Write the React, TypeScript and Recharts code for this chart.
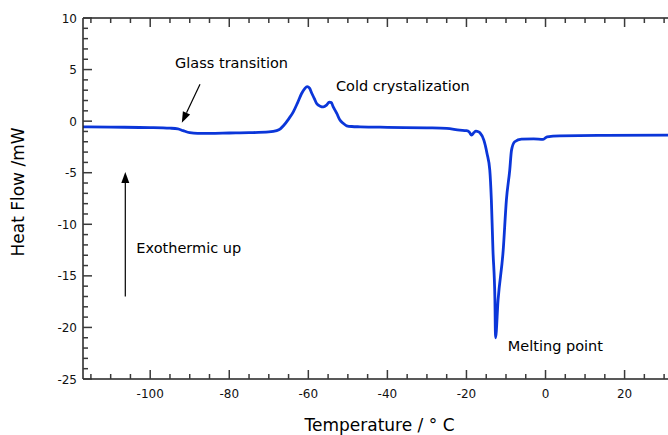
import React from "react";
import {
  LineChart,
  Line,
  XAxis,
  YAxis,
  ReferenceDot,
  ReferenceLine,
} from "recharts";

// DSC trace
const temperature = [
  -117, -110, -100, -95, -93, -91.7, -90, -88, -85, -80, -75, -70, -68, -67,
  -66.3, -65, -63.8, -62.7, -61.7, -60.9, -60.3, -59.7, -59.1, -58.5, -57.9,
  -57, -56.2, -55.4, -54.7, -54.2, -53.7, -52.8, -52, -51.2, -50.3, -49,
  -46.9, -40, -30, -25, -21.7, -20, -19.3, -18.7, -18.1, -17.6, -17, -16.6,
  -15.6, -14.8, -14.1, -13.7, -13.3, -12.8, -12.65, -12, -10.7, -9.9, -9.05,
  -8.6, -7.8, -6.1, -3, -0.6, 0.4, 3.6, 15, 32.5,
];
const heatFlow = [
  -0.55, -0.58, -0.62, -0.68, -0.75, -0.92, -1.12, -1.18, -1.18, -1.15, -1.12,
  -1.05, -0.92, -0.72, -0.45, 0.2, 0.9, 1.8, 2.68, 3.15, 3.35, 3.2, 2.68, 2.2,
  1.71, 1.45, 1.38, 1.55, 1.85, 1.8, 1.38, 0.75, 0.1, -0.2, -0.45, -0.52,
  -0.55, -0.6, -0.65, -0.7, -0.87, -0.92, -1.05, -1.36, -1.1, -0.97, -1.02,
  -1.13, -1.84, -3.13, -4.74, -7.65, -12.49, -17.33, -21.0, -17.33, -12.49,
  -7.65, -4.74, -2.81, -2.0, -1.74, -1.72, -1.77, -1.52, -1.42, -1.38, -1.36,
];

const xTicks = [
  -115, -110, -105, -100, -95, -90, -85, -80, -75, -70, -65, -60, -55, -50,
  -45, -40, -35, -30, -25, -20, -15, -10, -5, 0, 5, 10, 15, 20, 25, 30,
];
const yTicks = [
  -25, -24, -23, -22, -21, -20, -19, -18, -17, -16, -15, -14, -13, -12, -11,
  -10, -9, -8, -7, -6, -5, -4, -3, -2, -1, 0, 1, 2, 3, 4, 5, 6, 7, 8, 9, 10,
];

const data = temperature.map((t, i) => ({ t, hf: heatFlow[i] }));

const FONT = "DejaVu Sans";
const TICK = "#3a3a3a";

const BottomTick = ({ x, y, payload }: any) => {
  const major = payload.value % 20 === 0;
  return (
    <g>
      <line x1={x} x2={x} y1={y} y2={y - (major ? 9 : 5)} stroke={TICK} strokeWidth={1.5} />
      {major && (
        <text x={x} y={y + 19} textAnchor="middle" fontFamily={FONT} fontSize={12} fill="#111">
          {payload.value}
        </text>
      )}
    </g>
  );
};

const TopTick = ({ x, y, payload }: any) => {
  const major = payload.value % 20 === 0;
  return <line x1={x} x2={x} y1={y} y2={y + (major ? 9 : 5)} stroke={TICK} strokeWidth={1.5} />;
};

const LeftTick = ({ x, y, payload }: any) => {
  const major = payload.value % 5 === 0;
  return (
    <g>
      <line x1={x} x2={x + (major ? 9 : 5)} y1={y} y2={y} stroke={TICK} strokeWidth={1.5} />
      {major && (
        <text x={x - 6} y={y + 4.5} textAnchor="end" fontFamily={FONT} fontSize={12} fill="#111">
          {payload.value}
        </text>
      )}
    </g>
  );
};

const RightTick = ({ x, y, payload }: any) => {
  const major = payload.value % 5 === 0;
  return <line x1={x} x2={x - (major ? 9 : 5)} y1={y} y2={y} stroke={TICK} strokeWidth={1.5} />;
};

const Arrow = (p: any) => {
  const { x1, y1, x2, y2 } = p;
  const dx = x2 - x1;
  const dy = y2 - y1;
  const len = Math.sqrt(dx * dx + dy * dy);
  const ux = dx / len;
  const uy = dy / len;
  const hl = 11;
  const hw = 4;
  const bx = x2 - ux * hl;
  const by = y2 - uy * hl;
  return (
    <g>
      <line x1={x1} y1={y1} x2={bx} y2={by} stroke="#000" strokeWidth={1.2} />
      <polygon
        points={`${x2},${y2} ${bx - uy * hw},${by + ux * hw} ${bx + uy * hw},${by - ux * hw}`}
        fill="#000"
      />
    </g>
  );
};

const note = (text: string) => (p: any) => (
  <text x={p.cx} y={p.cy} fontFamily={FONT} fontSize={14.5} fill="#000">
    {text}
  </text>
);

const App: React.FC = () => {
  return (
    <div
      style={{
        position: "fixed",
        left: 0,
        top: 0,
        width: 668,
        height: 435,
        overflow: "hidden",
        background: "#fff",
      }}
    >
      <LineChart width={680} height={435} data={data} margin={{ top: 0, right: 0, left: 0, bottom: 0 }}>
        <XAxis
          dataKey="t"
          type="number"
          domain={[-117, 32.5]}
          allowDataOverflow
          ticks={xTicks}
          interval={0}
          height={56}
          tickSize={0}
          tickMargin={0}
          tick={<BottomTick />}
          axisLine={{ stroke: "#222", strokeWidth: 1.5 }}
          label={{
            content: ({ viewBox }: any) => (
              <text
                x={viewBox.x + viewBox.width / 2 + 1}
                y={viewBox.y + 52}
                textAnchor="middle"
                fontFamily={FONT}
                fontSize={17}
                fill="#000"
              >
                Temperature / ° C
              </text>
            ),
          }}
        />
        <XAxis
          xAxisId="top"
          orientation="top"
          dataKey="t"
          type="number"
          domain={[-117, 32.5]}
          allowDataOverflow
          ticks={xTicks}
          interval={0}
          height={18}
          tickSize={0}
          tickMargin={0}
          tick={<TopTick />}
          axisLine={{ stroke: "#222", strokeWidth: 1.5 }}
        />
        <YAxis
          type="number"
          domain={[-25, 10]}
          ticks={yTicks}
          interval={0}
          width={83}
          tickSize={0}
          tickMargin={0}
          tick={<LeftTick />}
          axisLine={{ stroke: "#222", strokeWidth: 1.5 }}
          label={{
            content: () => (
              <text
                x={18}
                y={192}
                transform="rotate(-90 18 192)"
                textAnchor="middle"
                dominantBaseline="central"
                fontFamily={FONT}
                fontSize={17}
                fill="#000"
              >
                Heat Flow /mW
              </text>
            ),
          }}
        />
        <YAxis
          yAxisId="right"
          orientation="right"
          type="number"
          domain={[-25, 10]}
          ticks={yTicks}
          interval={0}
          width={6}
          tickSize={0}
          tickMargin={0}
          tick={<RightTick />}
          axisLine={{ stroke: "#222", strokeWidth: 1.5 }}
        />
        <ReferenceLine
          segment={[
            { x: -87.4, y: 3.58 },
            { x: -92.0, y: -0.16 },
          ]}
          shape={Arrow}
          ifOverflow="visible"
        />
        <ReferenceLine
          segment={[
            { x: -106.3, y: -17.0 },
            { x: -106.3, y: -4.94 },
          ]}
          shape={Arrow}
          ifOverflow="visible"
        />
        <ReferenceDot x={-93.7} y={5.13} r={0} shape={note("Glass transition")} ifOverflow="visible" />
        <ReferenceDot x={-53.0} y={2.9} r={0} shape={note("Cold crystalization")} ifOverflow="visible" />
        <ReferenceDot x={-103.5} y={-12.8} r={0} shape={note("Exothermic up")} ifOverflow="visible" />
        <ReferenceDot x={-9.55} y={-22.3} r={0} shape={note("Melting point")} ifOverflow="visible" />
        <Line
          type="monotone"
          dataKey="hf"
          stroke="#0b36d9"
          strokeWidth={2.8}
          dot={false}
          isAnimationActive={false}
        />
      </LineChart>
    </div>
  );
};

export default App;
